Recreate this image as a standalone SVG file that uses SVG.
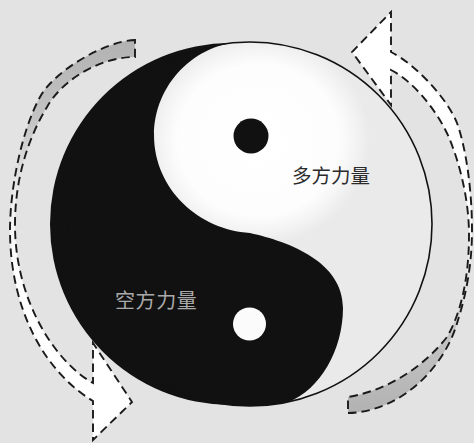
<svg xmlns="http://www.w3.org/2000/svg" width="474" height="443" viewBox="0 0 474 443">
<defs>
<style>
.dash{stroke:#1a1a1a;stroke-width:1.9;stroke-dasharray:8.5 5;stroke-linejoin:miter}
.lbl{font-family:"Noto Sans CJK SC","Noto Sans CJK JP",sans-serif;font-size:19.5px}
</style>
<radialGradient id="glow" cx="0.5" cy="0.5" r="0.5">
<stop offset="0" stop-color="#ffffff"/>
<stop offset="0.72" stop-color="#fdfdfd"/>
<stop offset="1" stop-color="#ffffff" stop-opacity="0"/>
</radialGradient>
<clipPath id="disc"><circle cx="250" cy="224" r="182"/></clipPath>
<linearGradient id="gL" gradientUnits="userSpaceOnUse" x1="0" y1="40" x2="0" y2="270">
<stop offset="0" stop-color="#b2b2b2"/>
<stop offset="0.35" stop-color="#c4c4c4"/>
<stop offset="0.7" stop-color="#f0f0f0"/>
<stop offset="1" stop-color="#ffffff"/>
</linearGradient>
<linearGradient id="gR" gradientUnits="userSpaceOnUse" x1="0" y1="413" x2="0" y2="190">
<stop offset="0" stop-color="#b2b2b2"/>
<stop offset="0.35" stop-color="#c4c4c4"/>
<stop offset="0.7" stop-color="#f0f0f0"/>
<stop offset="1" stop-color="#ffffff"/>
</linearGradient>
</defs>
<rect id="background" x="0" y="0" width="474" height="443" fill="#e3e3e3"/>
<g id="taiji">
<circle cx="250" cy="224" r="182" fill="#eaeaea"/>
<ellipse cx="258" cy="140" rx="112" ry="105" fill="url(#glow)" clip-path="url(#disc)"/>
<path d="M231,43 A181 181 0 1 0 231,405 A182 182 0 0 0 288,402 C320,390 343,350 343,308 C343,262 290,242 250,233 C200,230 154,190 154,135 C154,85 195,42 245,42 A182 182 0 0 0 231,43 Z" fill="#111111"/>
<circle cx="250" cy="224" r="182" fill="none" stroke="#111111" stroke-width="1.6"/>
<circle cx="251" cy="136" r="17.5" fill="#111111"/>
<circle cx="249.5" cy="324" r="16.5" fill="#fbfbfb"/>
</g>
<g id="label-duo">
<text class="lbl" x="292" y="183" fill="#2a2a2a">多方力量</text>
</g>
<g id="label-kong">
<text class="lbl" x="115" y="308" fill="#a9a9a9" style="font-size:20px;letter-spacing:0.6px">空方力量</text>
</g>
<g id="connectors">
<path id="arrow-left" class="dash" fill="url(#gL)" d="M135,40 C105,41 54,71 40,97 C21,132 10,190 10,230 C10,310 45,372 93,401 L93,440 L132,402 L93,343 L93,383 C55,362 15,300 15,225 C15,175 30,135 47,107 C62,80 100,57 135,57 Z"/>
<path id="arrow-right" class="dash" fill="url(#gR)" d="M348,413 C400,412 445,368 458,320 C466,295 472,265 472,230 C472,190 466,148 457,123 C447,98 415,64 391,52 L391,12 L352,52 L391,105 L391,70 C415,82 440,115 450,140 C460,165 469,200 469,235 C469,280 460,315 447,337 C425,365 390,390 348,397 Z"/>
</g>
</svg>
